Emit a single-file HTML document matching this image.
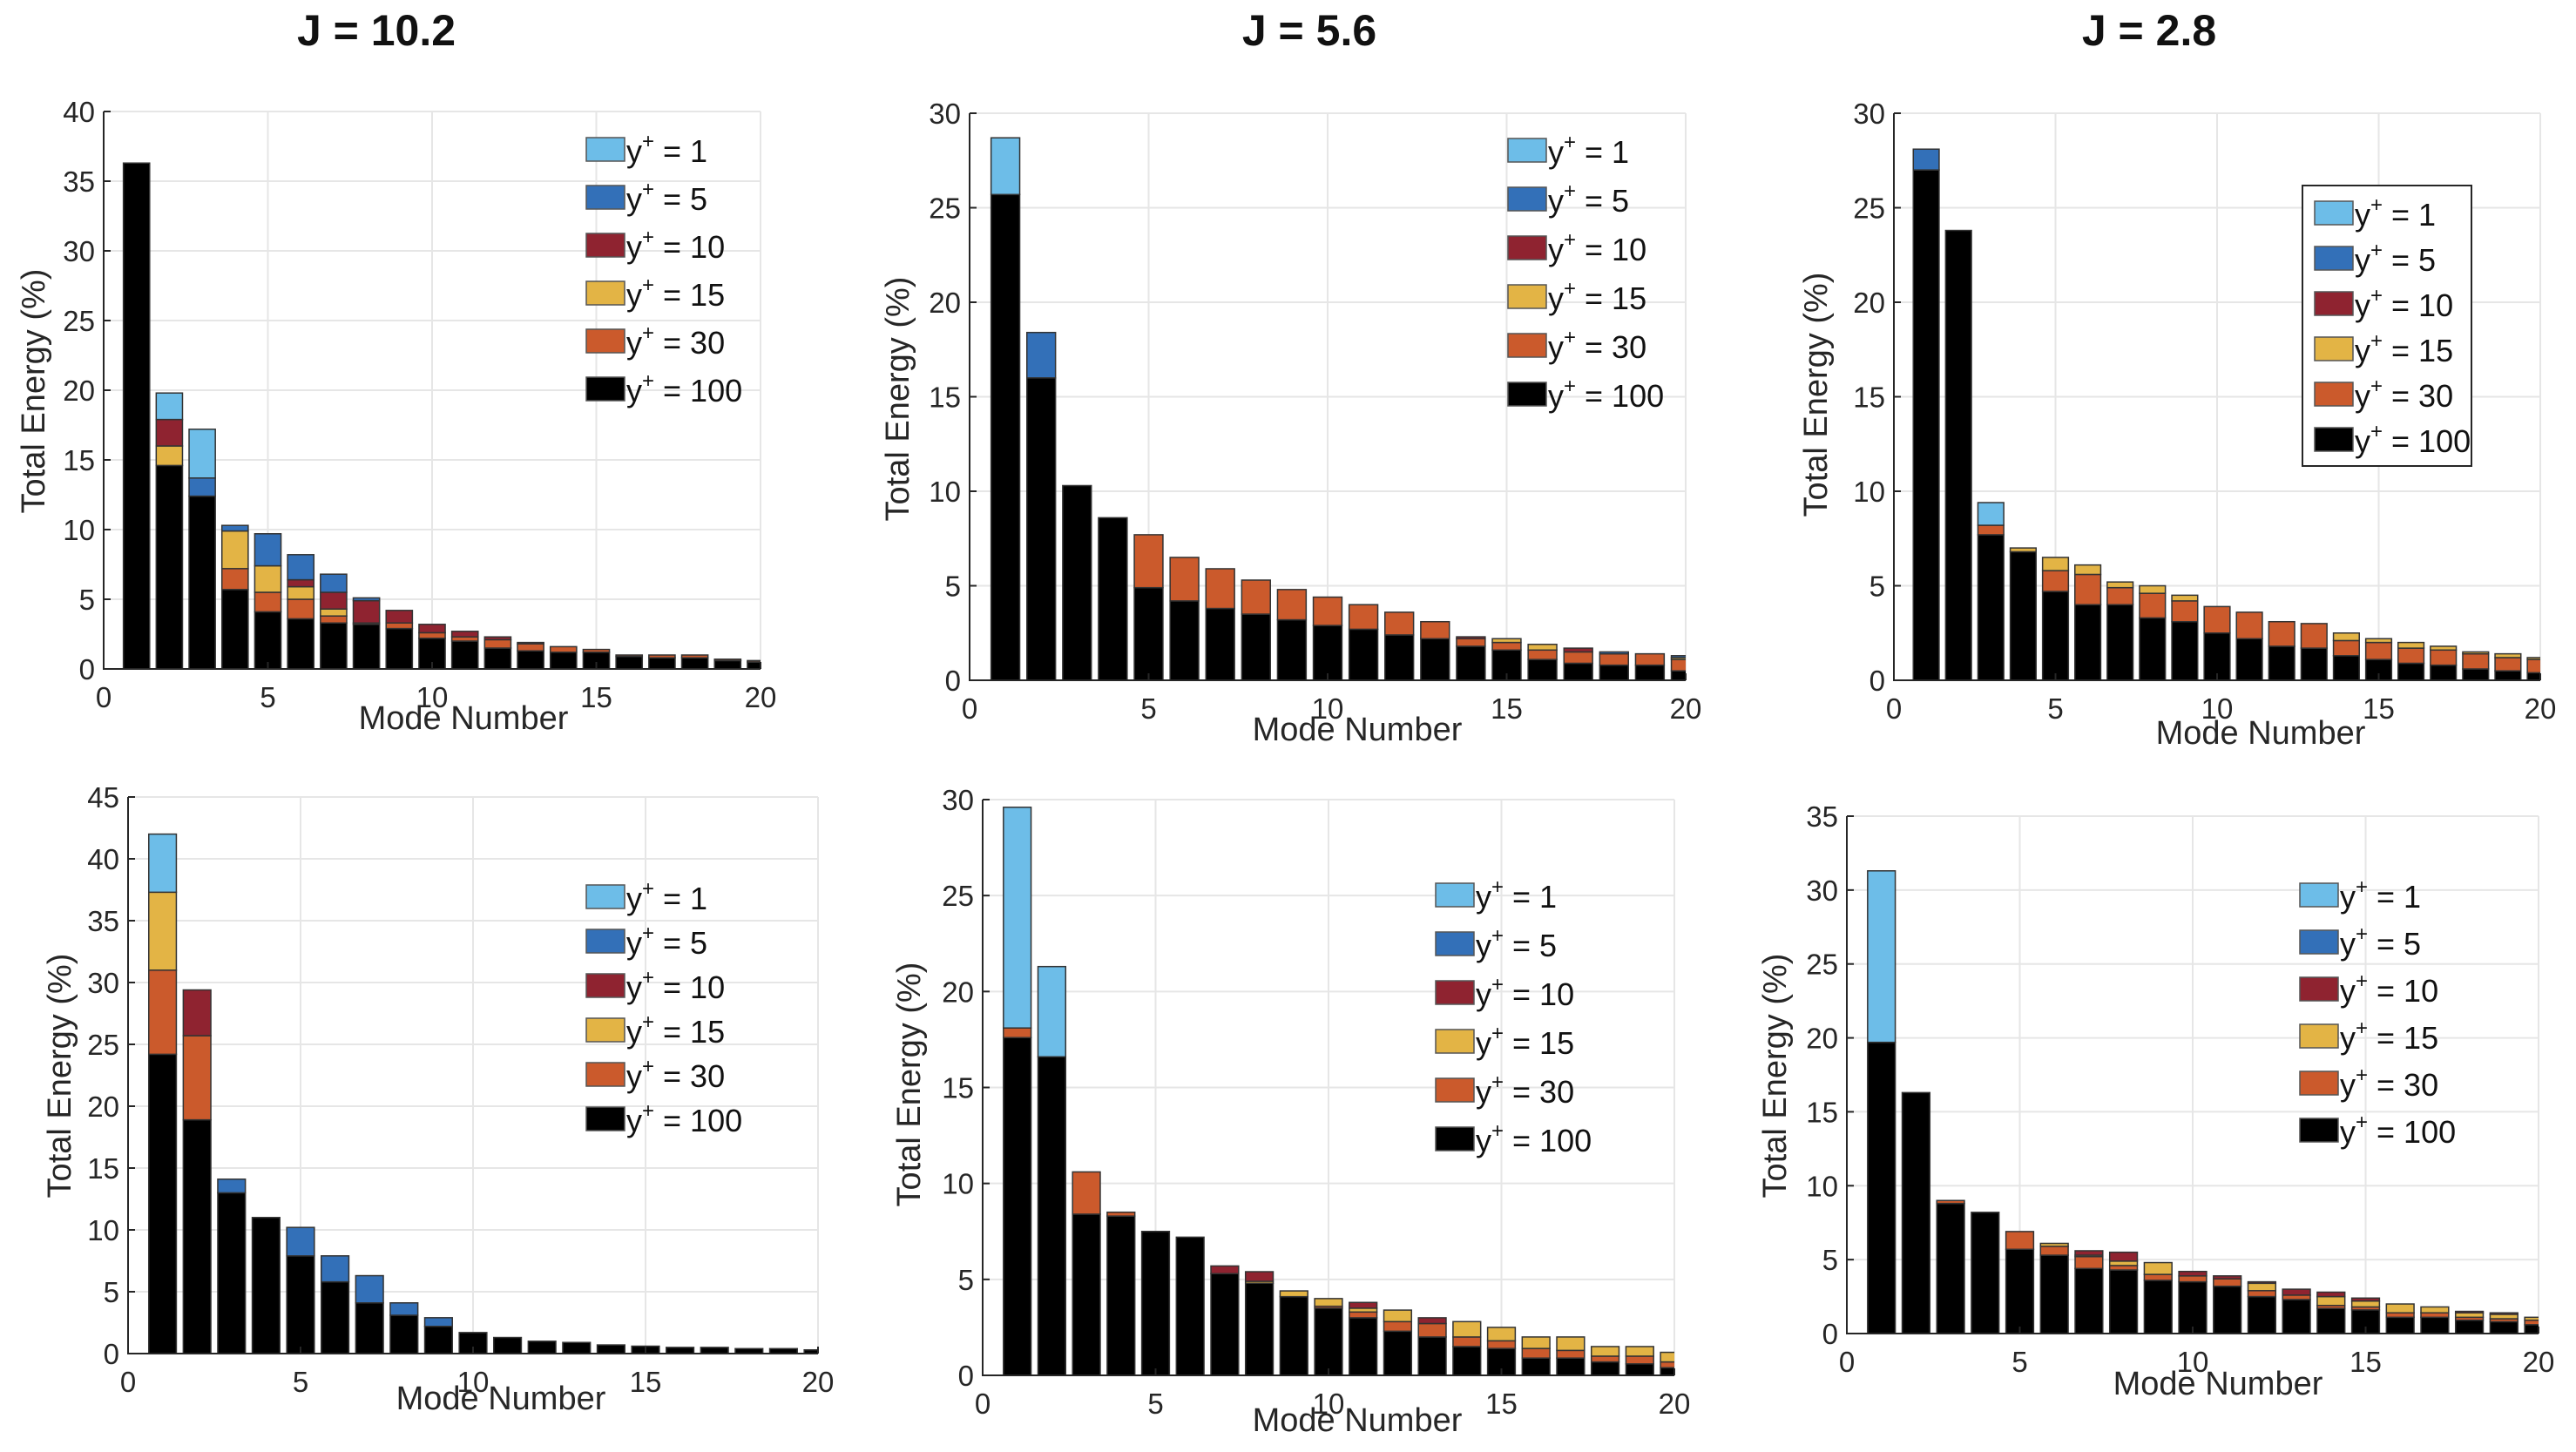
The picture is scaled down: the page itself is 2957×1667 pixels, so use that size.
<!DOCTYPE html>
<html><head><meta charset="utf-8"><style>
html,body{margin:0;padding:0;background:#fff;}
svg{display:block;font-family:"Liberation Sans",Arial,sans-serif;}
</style></head><body>
<svg id="fig" width="2957" height="1667" viewBox="0 0 2957 1667"></svg>
<script>
// categories
const modes = [1,2,3,4,5,6,7,8,9,10,11,12,13,14,15,16,17,18,19,20];
const seriesLabels = ["1","5","10","15","30","100"];
const xTicks = [0,5,10,15,20];
// cumulative stack tops (0 = segment absent); order bottom->top: y100, y30, y15, y10, y5, y1
// Panel A: J=10.2 top
const a_y100 = [36.3,14.6,12.4,5.7,4.1,3.6,3.3,3.2,2.9,2.2,2.0,1.5,1.3,1.2,1.2,0.9,0.8,0.8,0.6,0.5];
const a_y30  = [0,0,0,7.2,5.5,5.0,3.8,3.3,3.3,2.6,2.3,2.1,1.8,1.6,1.4,1.0,1.0,1.0,0.7,0.6];
const a_y15  = [0,16.0,0,9.9,7.4,5.9,4.3,0,0,0,0,0,0,0,0,0,0,0,0,0];
const a_y10  = [0,17.9,0,0,0,6.4,5.5,4.9,4.2,3.2,2.7,2.3,1.9,0,0,0,0,0,0,0];
const a_y5   = [0,0,13.7,10.3,9.7,8.2,6.8,5.1,0,0,0,0,0,0,0,0,0,0,0,0];
const a_y1   = [0,19.8,17.2,0,0,0,0,0,0,0,0,0,0,0,0,0,0,0,0,0];
// Panel B: J=5.6 top
const b_y100 = [25.7,16.0,10.3,8.6,4.9,4.2,3.8,3.5,3.2,2.9,2.7,2.4,2.2,1.8,1.6,1.1,0.9,0.8,0.8,0.5];
const b_y30  = [0,0,0,0,7.7,6.5,5.9,5.3,4.8,4.4,4.0,3.6,3.1,2.2,2.0,1.6,1.5,1.4,1.4,1.1];
const b_y15  = [0,0,0,0,0,0,0,0,0,0,0,0,0,0,2.2,1.9,0,0,0,1.2];
const b_y10  = [0,0,0,0,0,0,0,0,0,0,0,0,0,2.3,0,0,1.7,0,0,0];
const b_y5   = [0,18.4,0,0,0,0,0,0,0,0,0,0,0,0,0,0,0,1.5,0,1.3];
const b_y1   = [28.7,0,0,0,0,0,0,0,0,0,0,0,0,0,0,0,0,0,0,0];
// Panel C: J=2.8 top
const c_y100 = [27.0,23.8,7.7,6.8,4.7,4.0,4.0,3.3,3.1,2.5,2.2,1.8,1.7,1.3,1.1,0.9,0.8,0.6,0.5,0.4];
const c_y30  = [0,0,8.2,0,5.8,5.6,4.9,4.6,4.2,3.9,3.6,3.1,3.0,2.1,2.0,1.7,1.6,1.4,1.2,1.1];
const c_y15  = [0,0,0,7.0,6.5,6.1,5.2,5.0,4.5,0,0,0,0,2.5,2.2,2.0,1.8,1.5,1.4,1.2];
const c_y10  = [0,0,0,0,0,0,0,0,0,0,0,0,0,0,0,0,0,0,0,0];
const c_y5   = [28.1,0,0,0,0,0,0,0,0,0,0,0,0,0,0,0,0,0,0,0];
const c_y1   = [0,0,9.4,0,0,0,0,0,0,0,0,0,0,0,0,0,0,0,0,0];
// Panel D: J=10.2 bottom
const d_y100 = [24.2,18.9,13.0,11.0,7.9,5.8,4.1,3.1,2.2,1.7,1.3,1.0,0.9,0.7,0.6,0.5,0.5,0.4,0.4,0.3];
const d_y30  = [31.0,25.7,0,0,0,0,0,0,0,0,0,0,0,0,0,0,0,0,0,0];
const d_y15  = [37.3,0,0,0,0,0,0,0,0,0,0,0,0,0,0,0,0,0,0,0];
const d_y10  = [0,29.4,0,0,0,0,0,0,0,0,0,0,0,0,0,0,0,0,0,0];
const d_y5   = [0,0,14.1,0,10.2,7.9,6.3,4.1,2.9,0,0,0,0,0,0,0,0,0,0,0];
const d_y1   = [42.0,0,0,0,0,0,0,0,0,0,0,0,0,0,0,0,0,0,0,0];
// Panel E: J=5.6 bottom
const e_y100 = [17.6,16.6,8.4,8.3,7.5,7.2,5.3,4.8,4.1,3.5,3.0,2.3,2.0,1.5,1.4,0.9,0.9,0.7,0.6,0.4];
const e_y30  = [18.1,0,10.6,8.5,0,0,0,0,0,3.6,3.3,2.8,2.7,2.0,1.8,1.4,1.3,1.0,1.0,0.7];
const e_y15  = [0,0,0,0,0,0,0,4.9,4.4,4.0,3.5,3.4,0,2.8,2.5,2.0,2.0,1.5,1.5,1.2];
const e_y10  = [0,0,0,0,0,0,5.7,5.4,0,0,3.8,0,3.0,0,0,0,0,0,0,0];
const e_y5   = [0,0,0,0,0,0,0,0,0,0,0,0,0,0,0,0,0,0,0,0];
const e_y1   = [29.6,21.3,0,0,0,0,0,0,0,0,0,0,0,0,0,0,0,0,0,0];
// Panel F: J=2.8 bottom
const f_y100 = [19.7,16.3,8.8,8.2,5.7,5.3,4.4,4.3,3.6,3.5,3.2,2.5,2.3,1.7,1.6,1.1,1.1,0.9,0.8,0.6];
const f_y30  = [0,0,9.0,0,6.9,5.9,5.2,4.6,4.0,3.9,3.7,2.9,2.6,1.9,1.8,1.4,1.4,1.1,1.0,0.9];
const f_y15  = [0,0,0,0,0,6.1,5.3,4.9,4.8,0,0,3.4,0,2.5,2.2,2.0,1.8,1.4,1.3,1.1];
const f_y10  = [0,0,0,0,0,0,5.6,5.5,0,4.2,3.9,3.5,3.0,2.8,2.4,0,0,1.5,1.4,0];
const f_y5   = [0,0,0,0,0,0,0,0,0,0,0,0,0,0,0,0,0,0,0,0];
const f_y1   = [31.3,0,0,0,0,0,0,0,0,0,0,0,0,0,0,0,0,0,0,0];

const colors = ["#000000","#cb5a2c","#e3b445","#8f2330","#3370b8","#6dbde8"]; // y100,y30,y15,y10,y5,y1
const panels = [
 {id:"a",x0:119,x1:873,yt:128,yb:768,ymax:40,yTicks:[0,5,10,15,20,25,30,35,40],s:[a_y100,a_y30,a_y15,a_y10,a_y5,a_y1],
  leg:{x:673,y:172,dy:55,box:false},xl:[532,824],yl:[38,449]},
 {id:"b",x0:1113,x1:1935,yt:130,yb:781,ymax:30,yTicks:[0,5,10,15,20,25,30],s:[b_y100,b_y30,b_y15,b_y10,b_y5,b_y1],
  leg:{x:1731,y:173,dy:56,box:false},xl:[1558,837],yl:[1030,458]},
 {id:"c",x0:2174,x1:2916,yt:130,yb:781,ymax:30,yTicks:[0,5,10,15,20,25,30],s:[c_y100,c_y30,c_y15,c_y10,c_y5,c_y1],
  leg:{x:2657,y:245,dy:52,box:true},xl:[2595,841],yl:[2084,453]},
 {id:"d",x0:147,x1:939,yt:915,yb:1554,ymax:45,yTicks:[0,5,10,15,20,25,30,35,40,45],s:[d_y100,d_y30,d_y15,d_y10,d_y5,d_y1],
  leg:{x:673,y:1030,dy:51,box:false},xl:[575,1605],yl:[68,1235]},
 {id:"e",x0:1128,x1:1922,yt:918,yb:1579,ymax:30,yTicks:[0,5,10,15,20,25,30],s:[e_y100,e_y30,e_y15,e_y10,e_y5,e_y1],
  leg:{x:1648,y:1028,dy:56,box:false},xl:[1558,1630],yl:[1043,1245]},
 {id:"f",x0:2120,x1:2914,yt:937,yb:1531,ymax:35,yTicks:[0,5,10,15,20,25,30,35],s:[f_y100,f_y30,f_y15,f_y10,f_y5,f_y1],
  leg:{x:2640,y:1028,dy:54,box:false},xl:[2546,1588],yl:[2037,1235]}
];
const titles = [["J = 10.2",432],["J = 5.6",1503],["J = 2.8",2467]];

const NS="http://www.w3.org/2000/svg";
const fig=document.getElementById("fig");
function mk(tag,attrs,parent){const e=document.createElementNS(NS,tag);for(const k in attrs)e.setAttribute(k,attrs[k]);(parent||fig).appendChild(e);return e;}

titles.forEach((t,i)=>{
  const e=mk("text",{x:t[1],y:52,"text-anchor":"middle","font-size":50,"font-weight":"bold",fill:"#111"});
  
  
  e.textContent=t[0];
});

panels.forEach(p=>{
  const g=mk("g",{});
  
  
  const X=v=>p.x0+(v/20)*(p.x1-p.x0);
  const Y=v=>p.yb-(v/p.ymax)*(p.yb-p.yt);
  const clipId="clip"+p.id;
  const cp=mk("clipPath",{id:clipId},g);mk("rect",{x:p.x0,y:p.yt-2,width:p.x1-p.x0,height:p.yb-p.yt+2},cp);
  // grid
  xTicks.forEach(t=>{const l=mk("line",{x1:X(t),x2:X(t),y1:p.yt,y2:p.yb,stroke:"#e6e6e6","stroke-width":2},g);
    });
  p.yTicks.forEach(t=>{const l=mk("line",{x1:p.x0,x2:p.x1,y1:Y(t),y2:Y(t),stroke:"#e6e6e6","stroke-width":2},g);
    });
  // bars
  const bg=mk("g",{"clip-path":"url(#"+clipId+")"},g);
  modes.forEach((m,i)=>{
    let base=0;
    p.s.forEach((arr,si)=>{
      const top=arr[i];
      if(top>base){
        const r=mk("rect",{x:X(m-0.4),width:X(0.8)-X(0),y:Y(top),height:Y(base)-Y(top),fill:colors[si],stroke:"#333","stroke-width":1.5},bg);
        
        
        base=top;
      }
    });
  });
  // axes
  const ax=mk("path",{d:`M${p.x0},${p.yt}V${p.yb}H${p.x1}`,fill:"none",stroke:"#262626","stroke-width":2},g);
  
  xTicks.forEach(t=>{
    mk("line",{x1:X(t),x2:X(t),y1:p.yb,y2:p.yb-8,stroke:"#262626","stroke-width":2},g);
    const e=mk("text",{x:X(t),y:p.yb+44,"text-anchor":"middle","font-size":33,fill:"#262626"},g);
    
    e.textContent=t;
  });
  p.yTicks.forEach(t=>{
    mk("line",{x1:p.x0,x2:p.x0+8,y1:Y(t),y2:Y(t),stroke:"#262626","stroke-width":2},g);
    const e=mk("text",{x:p.x0-10,y:Y(t)+12,"text-anchor":"end","font-size":33,fill:"#262626"},g);
    
    e.textContent=t;
  });
  const xl=mk("text",{x:p.xl[0],y:p.xl[1]+13,"text-anchor":"middle","font-size":38,fill:"#262626"},g);
  
  xl.textContent="Mode Number";
  const yl=mk("text",{x:0,y:0,"text-anchor":"middle","font-size":38,fill:"#262626",transform:`translate(${p.yl[0]+13},${p.yl[1]}) rotate(-90)`},g);
  
  yl.textContent="Total Energy (%)";
  // legend
  const L=p.leg;
  const lg=mk("g",{},g);
  
  if(L.box){mk("rect",{x:L.x-14,y:L.y-32,width:194,height:L.dy*6+10,fill:"#fff",stroke:"#262626","stroke-width":2},lg);}
  for(let k=0;k<6;k++){
    const si=5-k;
    const cy=L.y+k*L.dy;
    const ent=mk("g",{},lg);
    
    
    mk("rect",{x:L.x,y:cy-14,width:44,height:27,fill:colors[si],stroke:"#555","stroke-width":1.5},ent);
    const t=mk("text",{x:L.x+46,y:cy+14,"font-size":36,fill:"#111"},ent);
    const a=mk("tspan",{},t);a.textContent="y";
    const b=mk("tspan",{"font-size":24,dy:-16},t);b.textContent="+";
    const c=mk("tspan",{dy:16},t);c.textContent=" = "+seriesLabels[k];
  }
});
</script>
</body></html>
